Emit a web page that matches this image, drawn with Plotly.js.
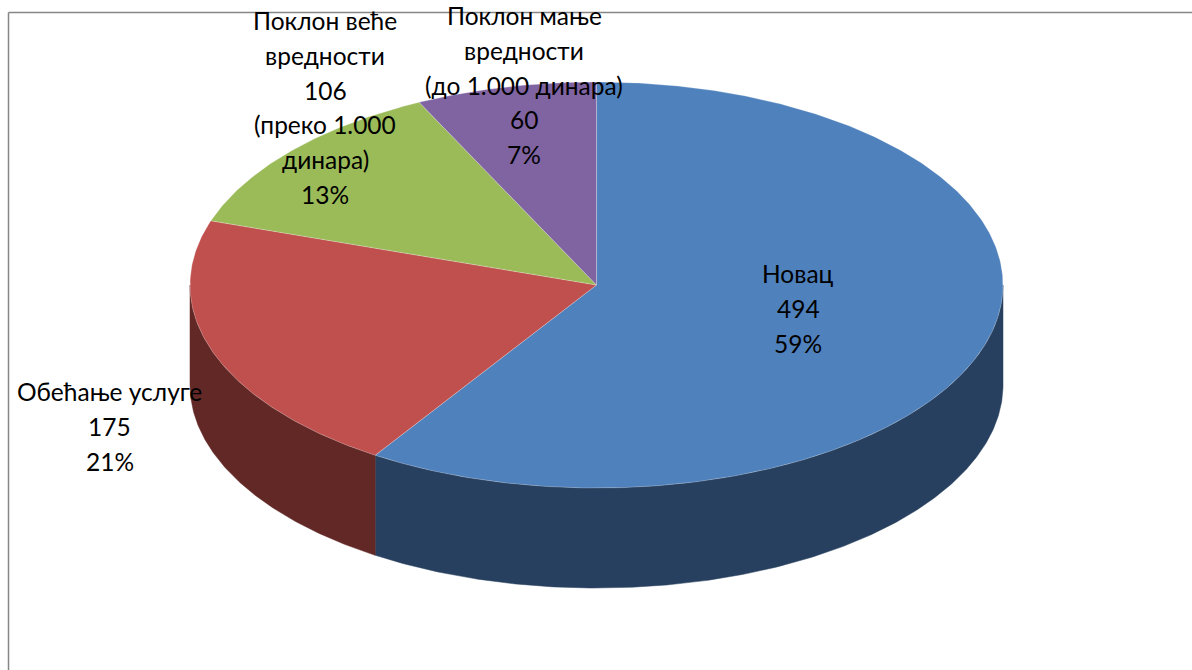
<!DOCTYPE html>
<html>
<head>
<meta charset="utf-8">
<script src="https://cdn.plot.ly/plotly-3.0.1.min.js"></script>
<style>html,body{margin:0;padding:0;background:#fff}#chart{width:1192px;height:670px}</style>
</head>
<body>
<div id="chart"></div>
<script>
// Data (clockwise from 12 o'clock)
const categories = ["Новац", "Обећање услуге", "Поклон веће вредности (преко 1.000 динара)", "Поклон мање вредности (до 1.000 динара)"];
const values = [494, 175, 106, 60];
const labelBefore = [["Новац"], ["Обећање услуге"], ["Поклон веће", "вредности"], ["Поклон мање", "вредности", "(до 1.000 динара)"]];
const labelAfter = [[], [], ["(преко 1.000", "динара)"], []];
const topColors = ["#4F81BD", "#C0504D", "#9BBB59", "#8064A2"];
const wallColors = ["#28405F", "#612826", "#4F5F2D", "#403252"];

// Label anchor per slice: centre x and first-line y
const labelX = [798, 109.5, 325, 524];
const labelY = [273.5, 391.5, 20.5, 15.5];
const lineStep = 34.8;

// Disc geometry in page pixels (the axes below map 1 unit to 1 pixel)
const cx = 596.5, cy = 285, rx = 406.5, ry = 203, depth = 100;
const total = values.reduce((a, b) => a + b, 0);

function rim(t) {
  const a = t * Math.PI / 180;
  return [cx + rx * Math.sin(a), cy - ry * Math.cos(a)];
}
function arc(t1, t2) {
  const n = Math.max(2, Math.ceil(Math.abs(t2 - t1) * 2));
  const pts = [];
  for (let i = 0; i <= n; i++) pts.push(rim(t1 + (t2 - t1) * i / n));
  return pts;
}

const traces = [];
const faces = [];
let start = 0;
values.forEach((v, i) => {
  const end = start + v / total * 360;
  // visible front wall: the part of the rim between 90 and 270 degrees
  const w1 = Math.max(start, 90), w2 = Math.min(end, 270);
  if (w2 > w1) {
    const top = arc(w1, w2);
    const bottom = top.slice().reverse().map(p => [p[0], p[1] + depth]);
    const ring = top.concat(bottom);
    ring.push(ring[0]);
    traces.push({
      type: "scatter", mode: "lines", fill: "toself", fillcolor: wallColors[i],
      x: ring.map(p => p[0]), y: ring.map(p => p[1]),
      line: {color: wallColors[i], width: 0.5}, hoverinfo: "skip", showlegend: false
    });
  }
  const rimPts = arc(start, end);
  const poly = [[cx, cy]].concat(rimPts, [[cx, cy]]);
  faces.push({
    type: "scatter", mode: "lines", fill: "toself", fillcolor: topColors[i],
    x: poly.map(p => p[0]), y: poly.map(p => p[1]),
    line: {color: "rgba(255,255,255,0.3)", width: 0.75},
    name: categories[i], text: categories[i] + ": " + v, hoverinfo: "text", showlegend: false
  });
  start = end;
});

const annotations = [];
values.forEach((v, i) => {
  const lines = labelBefore[i].concat([String(v)], labelAfter[i], [Math.round(v / total * 100) + "%"]);
  lines.forEach((t, k) => annotations.push({
    x: labelX[i], y: labelY[i] + k * lineStep, xref: "x", yref: "y",
    text: t, showarrow: false, xanchor: "center", yanchor: "middle",
    font: {family: "Lato, Carlito, 'Noto Sans', sans-serif", size: 24.5, color: "#000"}
  }));
});

const frame = {color: "#868686", width: 1.5};
const layout = {
  width: 1192, height: 670,
  margin: {l: 0, r: 0, t: 0, b: 0},
  paper_bgcolor: "#fff", plot_bgcolor: "#fff",
  xaxis: {range: [0, 1192], visible: false, fixedrange: true},
  yaxis: {range: [670, 0], visible: false, fixedrange: true},
  showlegend: false,
  shapes: [
    {type: "line", xref: "x", yref: "y", x0: 8.5, x1: 1192, y0: 12.5, y1: 12.5, line: frame, layer: "below"},
    {type: "line", xref: "x", yref: "y", x0: 8.5, x1: 8.5, y0: 12.5, y1: 670, line: frame, layer: "below"}
  ],
  annotations: annotations
};
Plotly.newPlot("chart", traces.concat(faces), layout, {displayModeBar: false, staticPlot: false});
</script>
</body>
</html>
